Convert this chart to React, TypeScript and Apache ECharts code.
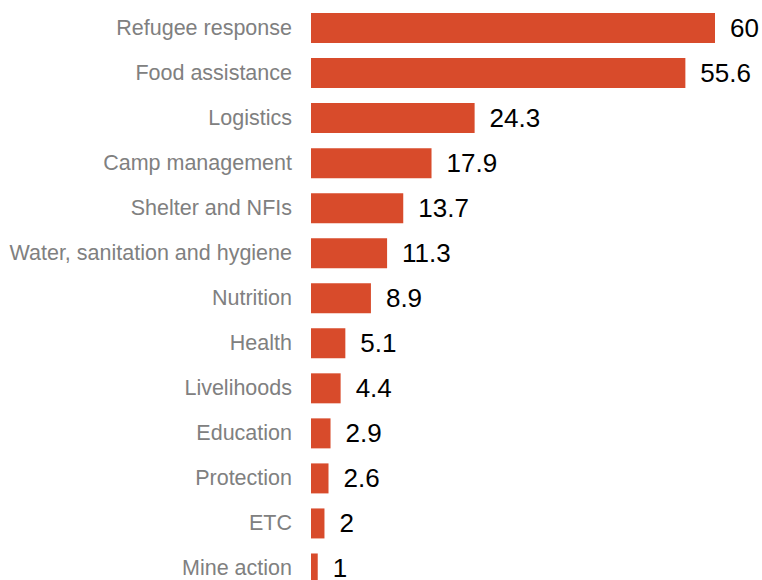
import React, { useEffect, useRef } from "react";
import * as echarts from "echarts";

const categories = [
  "Refugee response",
  "Food assistance",
  "Logistics",
  "Camp management",
  "Shelter and NFIs",
  "Water, sanitation and hygiene",
  "Nutrition",
  "Health",
  "Livelihoods",
  "Education",
  "Protection",
  "ETC",
  "Mine action",
];
const values = [60, 55.6, 24.3, 17.9, 13.7, 11.3, 8.9, 5.1, 4.4, 2.9, 2.6, 2, 1];

export default function App() {
  const ref = useRef<HTMLDivElement>(null);
  useEffect(() => {
    if (!ref.current) return;
    const chart = echarts.init(ref.current, null, { renderer: "svg" });
    chart.setOption({
      animation: false,
      grid: { left: 311, width: 404, top: 5.5, bottom: 0 },
      xAxis: {
        type: "value",
        min: 0,
        max: 60,
        show: false,
      },
      yAxis: {
        type: "category",
        data: categories,
        inverse: true,
        axisLine: { show: false },
        axisTick: { show: false },
        axisLabel: {
          margin: 19,
          color: "#808080",
          fontSize: 21.5,
          fontFamily: "Liberation Sans, Arial, sans-serif",
        },
      },
      series: [
        {
          type: "bar",
          data: values,
          barWidth: 30,
          itemStyle: { color: "#d84b2b" },
          label: {
            show: true,
            position: "right",
            distance: 15,
            color: "#000",
            fontSize: 26,
            fontFamily: "Liberation Sans, Arial, sans-serif",
          },
        },
      ],
    });
    return () => chart.dispose();
  }, []);
  return (
    <div
      ref={ref}
      style={{ position: "fixed", left: 0, top: 0, width: 762, height: 590.5, background: "#fff" }}
    />
  );
}
